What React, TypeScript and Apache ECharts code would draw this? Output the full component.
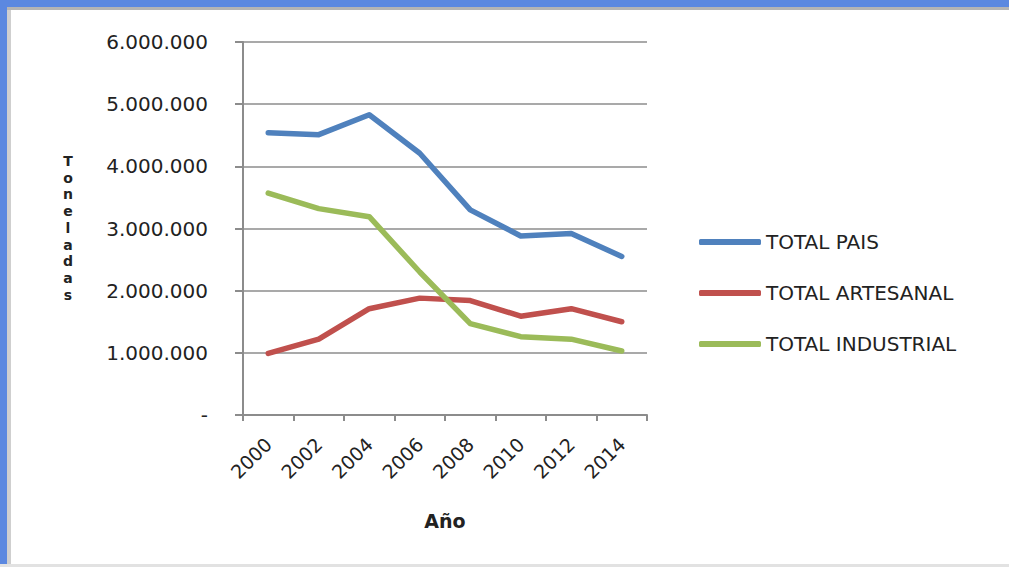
import React, { useEffect, useRef } from "react";
import * as echarts from "echarts";

const years = ["2000", "2002", "2004", "2006", "2008", "2010", "2012", "2014"];
const totalPais = [4540000, 4510000, 4830000, 4210000, 3300000, 2880000, 2920000, 2550000];
const totalArtesanal = [990000, 1220000, 1710000, 1880000, 1840000, 1590000, 1710000, 1500000];
const totalIndustrial = [3570000, 3320000, 3190000, 2300000, 1470000, 1260000, 1220000, 1030000];
const seriesNames = ["TOTAL PAIS", "TOTAL ARTESANAL", "TOTAL INDUSTRIAL"];
const colors = ["#4F81BD", "#C0504D", "#9BBB59"];
const yTitleLetters = ["T", "o", "n", "e", "l", "a", "d", "a", "s"];

const FONT = "DejaVu Sans";

function fmt(v: number): string {
  if (v === 0) return "-";
  return String(Math.round(v)).replace(/\B(?=(\d{3})+(?!\d))/g, ".");
}

export default function App() {
  const ref = useRef<HTMLDivElement>(null);
  useEffect(() => {
    document.body.style.margin = "0";
    const chart = echarts.init(ref.current!, null, { renderer: "svg" });
    const datasets = [totalPais, totalArtesanal, totalIndustrial];
    const titleLetters = yTitleLetters.map((ch, i) => ({
      type: "text",
      x: 68,
      y: 161 + i * 16.7,
      style: {
        text: ch,
        font: `bold 14px "${FONT}"`,
        fill: "#222",
        textAlign: "center",
        textVerticalAlign: "middle",
      },
    }));
    chart.setOption({
      animation: false,
      backgroundColor: "#ffffff",
      color: colors,
      grid: { left: 243, right: 362, top: 42, bottom: 152 },
      graphic: [
        { type: "rect", shape: { x: 0, y: 0, width: 1009, height: 7 }, style: { fill: "#5B88E0" } },
        { type: "rect", shape: { x: 0, y: 7, width: 1009, height: 3 }, style: { fill: "#b4b4b4" } },
        { type: "rect", shape: { x: 0, y: 0, width: 7, height: 567 }, style: { fill: "#5B88E0" } },
        { type: "rect", shape: { x: 7, y: 10, width: 4, height: 557 }, style: { fill: "#cfcfcf" } },
        { type: "rect", shape: { x: 0, y: 564, width: 1009, height: 3 }, style: { fill: "#e2e2e2" } },
        ...titleLetters,
      ],
      legend: {
        orient: "vertical",
        left: 694,
        top: 227,
        icon: "roundRect",
        itemWidth: 62,
        itemHeight: 6,
        itemGap: 31,
        data: seriesNames,
        textStyle: { fontFamily: FONT, fontSize: 20, color: "#222" },
      },
      xAxis: {
        type: "category",
        data: years,
        boundaryGap: true,
        name: "Año",
        nameLocation: "middle",
        nameGap: 96,
        nameTextStyle: { fontFamily: FONT, fontSize: 19, fontWeight: "bold", color: "#222" },
        axisLine: { lineStyle: { color: "#8c8c8c", width: 2 } },
        axisTick: { show: true, interval: 0, length: 6, lineStyle: { color: "#8c8c8c", width: 2 } },
        axisLabel: {
          rotate: 45,
          interval: 0,
          margin: 26,
          fontFamily: FONT,
          fontSize: 19,
          color: "#222",
        },
      },
      yAxis: {
        type: "value",
        min: 0,
        max: 6000000,
        interval: 1000000,
        axisLine: { show: true, lineStyle: { color: "#8c8c8c", width: 2 } },
        axisTick: { show: true, length: 8, lineStyle: { color: "#8c8c8c", width: 2 } },
        splitLine: { lineStyle: { color: "#8c8c8c", width: 1.5 } },
        axisLabel: {
          margin: 35,
          formatter: (v: number) => fmt(v),
          fontFamily: FONT,
          fontSize: 20,
          color: "#222",
        },
      },
      series: datasets.map((d, i) => ({
        name: seriesNames[i],
        type: "line",
        data: d,
        showSymbol: false,
        symbol: "none",
        lineStyle: { width: 5.5, color: colors[i], cap: "round", join: "round" },
        itemStyle: { color: colors[i] },
      })),
    });
    return () => chart.dispose();
  }, []);
  return <div ref={ref} style={{ width: 1009, height: 567 }} />;
}
